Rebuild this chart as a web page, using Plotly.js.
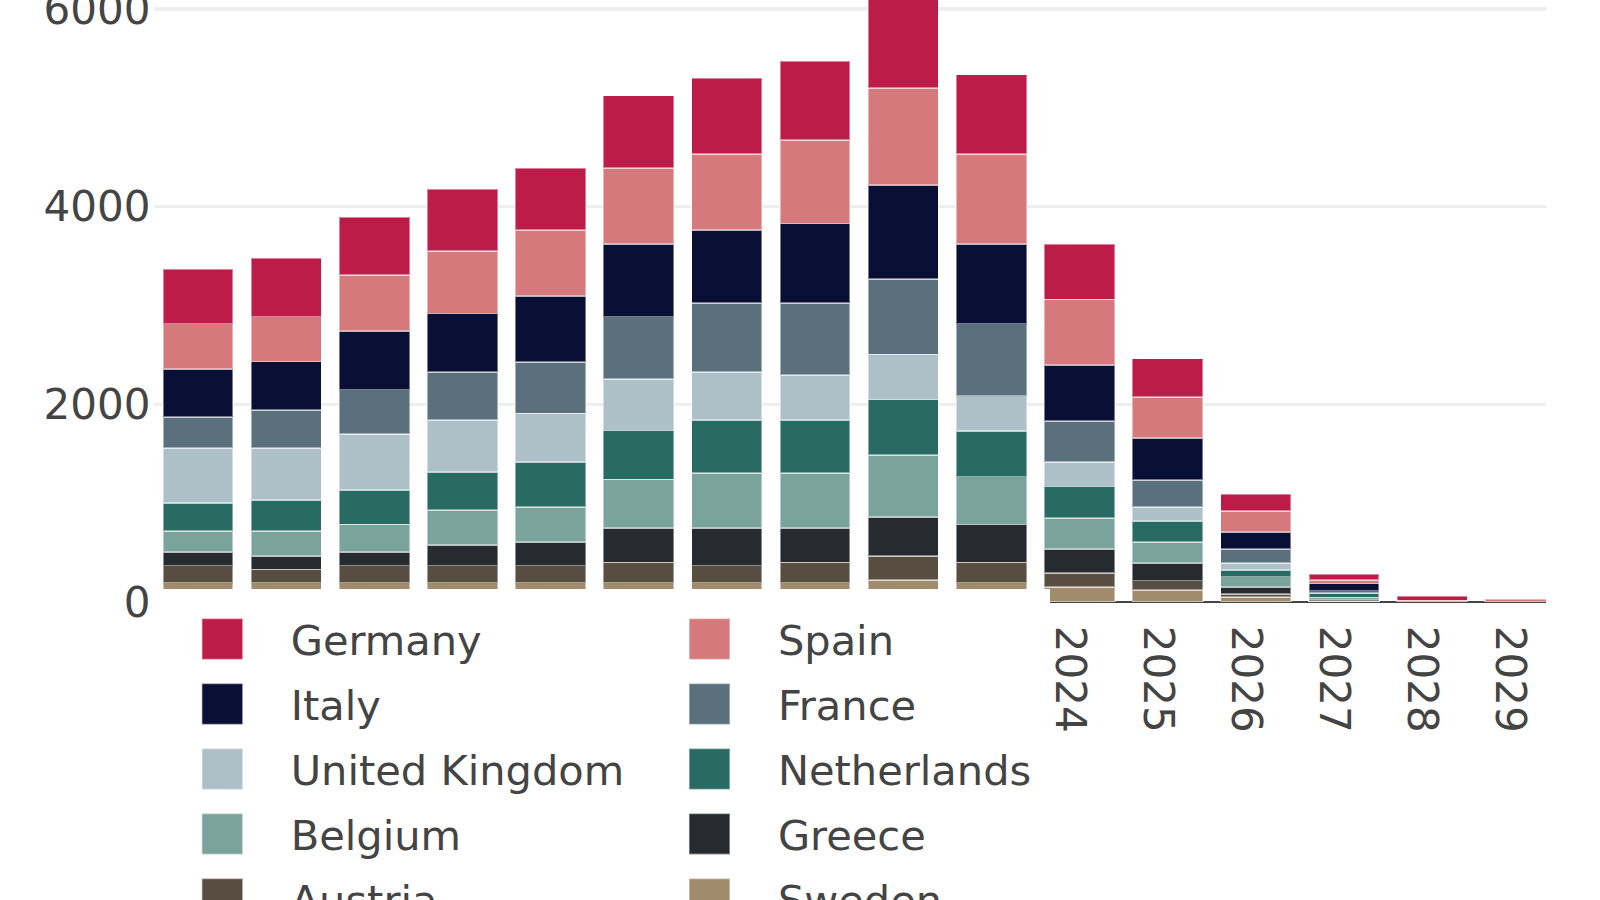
<!DOCTYPE html>
<html>
<head>
<meta charset="utf-8">
<script src="https://cdn.plot.ly/plotly-3.0.1.min.js"></script>
<style>
  html, body { margin:0; padding:0; width:1600px; height:900px; overflow:hidden; background:#fff; }
  #wrap { position:absolute; left:0; top:0; transform-origin:0 0; }
</style>
</head>
<body>
<div id="wrap"><div id="chart"></div></div>
<script>
// ---- data ----
const years = ['2014','2015','2016','2017','2018','2019','2020','2021','2022','2023','2024','2025','2026','2027','2028','2029'];
const germany     = [556, 592, 588, 624, 628, 736, 768, 804, 920, 804, 564, 389, 175, 60, 40, null];
const spain       = [456, 456, 564, 632, 664, 768, 772, 844, 980, 912, 666, 415, 213, 40, 15, 25];
const italy       = [492, 488, 596, 596, 668, 732, 732, 804, 952, 804, 564, 423, 172, 70, null, null];
const france      = [312, 388, 452, 484, 520, 632, 700, 728, 764, 728, 416, 277, 139, 20, null, null];
const unitedKingdom = [556, 528, 560, 524, 492, 520, 488, 456, 456, 360, 246, 142, 71, 10, null, null];
const netherlands = [280, 308, 352, 388, 456, 496, 532, 532, 560, 460, 318, 212, 67, 40, null, null];
const belgium     = [216, 252, 280, 352, 352, 492, 560, 560, 632, 484, 314, 210, 108, 20, null, null];
const greece      = [136, 140, 136, 208, 240, 348, 380, 348, 388, 384, 246, 179, 68, 15, null, null];
const austria     = [172, 132, 172, 172, 172, 204, 172, 204, 244, 204, 142, 94, 34, 5, null, null];
const sweden      = [196, 196, 196, 196, 196, 196, 196, 196, 224, 196, 149, 122, 47, 5, null, null];

const seriesNames  = ['Sweden','Austria','Greece','Belgium','Netherlands','United Kingdom','France','Italy','Spain','Germany'];
const seriesValues = [sweden, austria, greece, belgium, netherlands, unitedKingdom, france, italy, spain, germany];
const seriesColors = ['#a08c6c','#574d40','#272b2f','#7aa39c','#276b62','#adc0c8','#5a707c','#0a0f36','#d6797c','#be1c48'];

// ---- geometry (zoomed view) ----
const S = 3.42;                 // zoom factor of the view
const W = 1600 / S, H = 310;
const plotL = 154 / S, plotR = 1545 / S, zeroY = 601.5 / S;

const traces = seriesNames.map((n, i) => ({
  type: 'bar', name: n, x: years, y: seriesValues[i],
  marker: { color: seriesColors[i], line: { color: 'rgba(255,255,255,0.45)', width: 0.5 } },
  hoverinfo: 'none'
}));

const layout = {
  width: W, height: H,
  margin: { l: plotL, r: W - plotR, t: 0, b: H - zeroY, pad: 0 },
  barmode: 'stack',
  bargap: 0.2,
  paper_bgcolor: '#fff', plot_bgcolor: '#fff',
  font: { family: 'Verdana, "DejaVu Sans", sans-serif', size: 12, color: '#444' },
  showlegend: true,
  legend: {
    orientation: 'h', traceorder: 'reversed',
    x: 0, xanchor: 'left', y: (601.5 - 589) / 601.5, yanchor: 'top',
    bgcolor: '#fff', font: { size: 12.15, color: '#444' }
  },
  xaxis: {
    type: 'category', range: [-0.5, 15.29], tickangle: 90,
    tickfont: { size: 12.3 },
    ticklabelstandoff: 6, ticklabelshift: -3,
    showgrid: false, zeroline: false, showline: false, ticks: ''
  },
  yaxis: {
    range: [0, 6091], dtick: 2000, tick0: 0,
    tickfont: { size: 12.3 },
    ticklabeloverflow: 'allow',
    showgrid: true, gridcolor: '#eee', gridwidth: 1,
    zeroline: true, zerolinecolor: '#444', zerolinewidth: 0.8,
    showline: false, ticks: ''
  }
};

document.getElementById('wrap').style.transform = 'scale(' + S + ')';
Plotly.newPlot('chart', traces, layout, { displayModeBar: false, staticPlot: true, responsive: false });
</script>
</body>
</html>
